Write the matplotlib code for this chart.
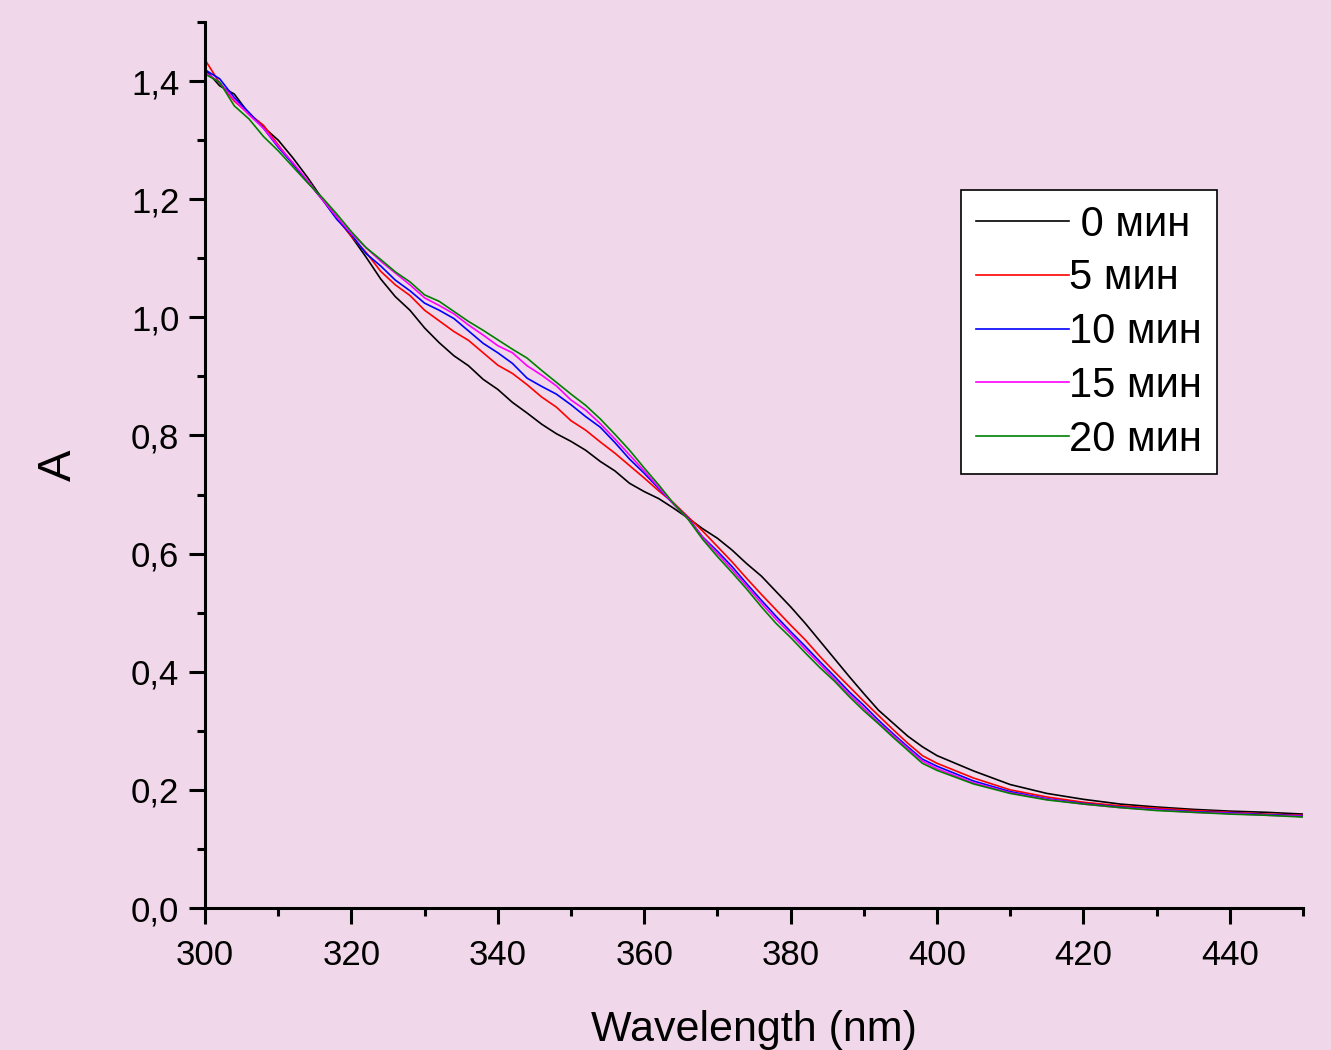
import matplotlib
matplotlib.use("Agg")
import matplotlib.pyplot as plt
from matplotlib.ticker import MultipleLocator, FuncFormatter

plt.rcParams['font.family'] = ['Liberation Sans', 'DejaVu Sans']

# Absorption spectra recorded at successive irradiation times
wavelength = [300, 302, 304, 306, 308, 310, 312, 314, 316, 318,
              320, 322, 324, 326, 328, 330, 332, 334, 336, 338,
              340, 342, 344, 346, 348, 350, 352, 354, 356, 358,
              360, 362, 364, 366, 368, 370, 372, 374, 376, 378,
              380, 382, 384, 386, 388, 390, 392, 394, 396, 398,
              400, 405, 410, 415, 420, 425, 430, 435, 440, 445, 450]

a_0min = [1.420, 1.392, 1.378, 1.345, 1.322, 1.300, 1.270, 1.237, 1.201, 1.170,
          1.137, 1.102, 1.065, 1.035, 1.012, 0.982, 0.957, 0.935, 0.918, 0.895,
          0.878, 0.856, 0.838, 0.819, 0.803, 0.790, 0.775, 0.756, 0.740, 0.719,
          0.705, 0.693, 0.677, 0.660, 0.642, 0.626, 0.606, 0.583, 0.562, 0.536,
          0.510, 0.482, 0.452, 0.422, 0.392, 0.363, 0.335, 0.313, 0.291, 0.273,
          0.258, 0.232, 0.209, 0.194, 0.184, 0.176, 0.171, 0.167, 0.164, 0.162, 0.159]

a_5min = [1.436, 1.397, 1.366, 1.345, 1.325, 1.292, 1.260, 1.230, 1.200, 1.168,
          1.137, 1.110, 1.078, 1.055, 1.037, 1.012, 0.994, 0.976, 0.961, 0.940,
          0.919, 0.905, 0.886, 0.865, 0.848, 0.825, 0.809, 0.789, 0.770, 0.749,
          0.728, 0.706, 0.686, 0.662, 0.638, 0.612, 0.586, 0.558, 0.531, 0.505,
          0.479, 0.454, 0.426, 0.400, 0.375, 0.350, 0.326, 0.302, 0.279, 0.258,
          0.245, 0.220, 0.200, 0.188, 0.179, 0.173, 0.169, 0.165, 0.162, 0.159, 0.157]

a_10min = [1.419, 1.404, 1.372, 1.347, 1.320, 1.288, 1.260, 1.230, 1.200, 1.166,
           1.140, 1.108, 1.087, 1.063, 1.045, 1.024, 1.012, 0.998, 0.977, 0.956,
           0.940, 0.922, 0.897, 0.883, 0.870, 0.852, 0.832, 0.814, 0.788, 0.760,
           0.736, 0.710, 0.684, 0.660, 0.628, 0.604, 0.578, 0.549, 0.521, 0.494,
           0.468, 0.443, 0.417, 0.392, 0.366, 0.343, 0.318, 0.295, 0.273, 0.252,
           0.240, 0.215, 0.197, 0.185, 0.177, 0.171, 0.167, 0.163, 0.161, 0.158, 0.156]

a_15min = [1.415, 1.398, 1.368, 1.343, 1.320, 1.290, 1.262, 1.232, 1.200, 1.170,
           1.142, 1.118, 1.095, 1.075, 1.055, 1.033, 1.020, 1.006, 0.987, 0.970,
           0.952, 0.940, 0.918, 0.902, 0.884, 0.860, 0.843, 0.820, 0.794, 0.767,
           0.740, 0.712, 0.684, 0.659, 0.627, 0.600, 0.573, 0.545, 0.516, 0.489,
           0.464, 0.438, 0.413, 0.387, 0.362, 0.338, 0.314, 0.292, 0.270, 0.249,
           0.236, 0.212, 0.195, 0.184, 0.176, 0.170, 0.166, 0.162, 0.160, 0.157, 0.155]

a_20min = [1.412, 1.398, 1.358, 1.336, 1.306, 1.282, 1.255, 1.228, 1.203, 1.175,
           1.145, 1.118, 1.098, 1.077, 1.060, 1.038, 1.027, 1.010, 0.993, 0.978,
           0.962, 0.946, 0.931, 0.910, 0.890, 0.870, 0.851, 0.828, 0.802, 0.775,
           0.745, 0.716, 0.685, 0.658, 0.624, 0.595, 0.568, 0.540, 0.510, 0.482,
           0.458, 0.432, 0.407, 0.384, 0.358, 0.334, 0.312, 0.289, 0.267, 0.245,
           0.233, 0.210, 0.194, 0.183, 0.176, 0.170, 0.165, 0.162, 0.159, 0.157, 0.154]

series = [a_0min, a_5min, a_10min, a_15min, a_20min]
labels = [" 0 мин", "5 мин", "10 мин", "15 мин", "20 мин"]
colors = ["#000000", "#FF0000", "#0000FF", "#FF00FF", "#008000"]

bg = "#F1D7EA"
fig = plt.figure(figsize=(13.31, 10.50), dpi=100, facecolor=bg)
ax = fig.add_axes([205 / 1331, 1 - 908 / 1050, 1098 / 1331, 886 / 1050])
ax.set_facecolor(bg)

for vals, lab, col in zip(series, labels, colors):
    ax.plot(wavelength, vals, color=col, lw=1.2, label=lab)

ax.set_xlim(300, 450)
ax.set_ylim(0, 1.5)

for side in ("top", "right"):
    ax.spines[side].set_visible(False)
for side in ("left", "bottom"):
    ax.spines[side].set_linewidth(2.2)

ax.xaxis.set_major_locator(MultipleLocator(20))
ax.xaxis.set_minor_locator(MultipleLocator(10))
ax.yaxis.set_major_locator(MultipleLocator(0.2))
ax.yaxis.set_minor_locator(MultipleLocator(0.1))
ax.yaxis.set_major_formatter(FuncFormatter(lambda v, p: f"{v:.1f}".replace(".", ",")))

ax.tick_params(which="major", direction="out", length=11.5, width=2.2,
               labelsize=25, colors="black")
ax.tick_params(which="minor", direction="out", length=5.8, width=2.2)
ax.tick_params(axis="x", which="major", pad=11)
ax.tick_params(axis="y", which="major", pad=7)

ax.set_xlabel("Wavelength (nm)", fontsize=31, labelpad=27)
ax.set_ylabel("A", fontsize=34, labelpad=36)

leg = ax.legend(loc="upper left", bbox_to_anchor=(961 / 1331, 1 - 190 / 1050),
                bbox_transform=fig.transFigure, fontsize=30, frameon=True,
                fancybox=False, edgecolor="black", facecolor="white",
                framealpha=1, handlelength=2.25, handletextpad=0.0,
                labelspacing=0.33, borderpad=0.35, borderaxespad=0)
leg.get_frame().set_linewidth(1.2)
for h in leg.get_lines():
    h.set_linewidth(1.2)

fig.savefig("out.png", dpi=100, facecolor=bg)
